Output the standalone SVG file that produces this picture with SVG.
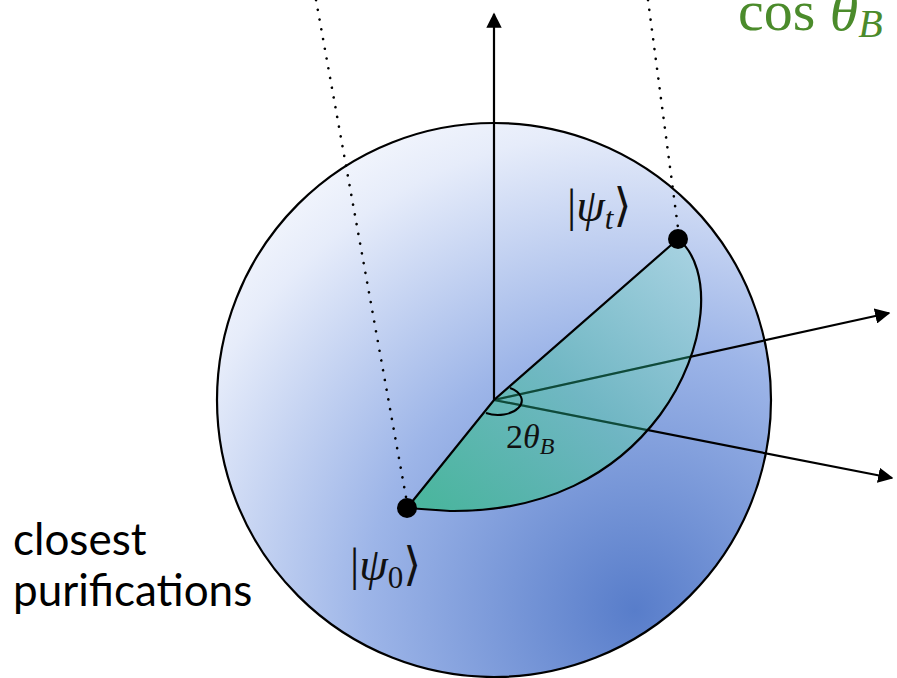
<svg xmlns="http://www.w3.org/2000/svg" width="897" height="678" viewBox="0 0 897 678">
<style>
.axis{stroke:#000;stroke-width:2.2;fill:none}
.dot{stroke:#000;stroke-width:2.6;stroke-dasharray:0.1 9.8;stroke-linecap:round;fill:none}
.math{font-family:"Liberation Serif","DejaVu Serif",serif;fill:#111}
.it{font-style:italic}
.lbl{font-family:Lato,"Open Sans",sans-serif;font-size:44px;fill:#000}
</style>
<defs>
<radialGradient id="sg" gradientUnits="userSpaceOnUse" cx="635" cy="610" r="600" fx="635" fy="610">
<stop offset="0" stop-color="#587dca"/>
<stop offset="0.45" stop-color="#9db5e8"/>
<stop offset="0.8" stop-color="#e6ecfa"/>
<stop offset="1" stop-color="#ffffff"/>
</radialGradient>
<linearGradient id="gg" gradientUnits="userSpaceOnUse" x1="430" y1="500" x2="690" y2="250">
<stop offset="0" stop-color="#3fb793"/>
<stop offset="0.5" stop-color="#6bb9be"/>
<stop offset="1" stop-color="#a2d2de"/>
</linearGradient>
<clipPath id="rc">
<path d="M494,400 L678,239 C714,268 708,350 660,415 C615,475 545,512 450,511 L407,508 Z"/>
</clipPath>
<marker id="ah" viewBox="0 0 10 10" refX="9" refY="5" markerWidth="7" markerHeight="7" markerUnits="strokeWidth" orient="auto">
<path d="M0,0 L10,5 L0,10 Z" fill="#000"/>
</marker>
</defs>
<g id="sphere">
<circle cx="494" cy="400" r="277" fill="url(#sg)" stroke="#000" stroke-width="2.2"/>
</g>
<g id="connectors">
<line class="dot" x1="316" y1="0" x2="406" y2="497"/>
<line class="dot" x1="648" y1="0" x2="678" y2="228"/>
<line class="axis" x1="494" y1="400" x2="494" y2="14" marker-end="url(#ah)"/>
<line class="axis" x1="494" y1="400" x2="889" y2="313" marker-end="url(#ah)"/>
<line class="axis" x1="494" y1="400" x2="892" y2="478" marker-end="url(#ah)"/>
</g>
<g id="region">
<path d="M494,400 L678,239 C714,268 708,350 660,415 C615,475 545,512 450,511 L407,508 Z" fill="url(#gg)" fill-opacity="0.85" stroke="none"/>
<g clip-path="url(#rc)" stroke="#0f4a3a" stroke-width="2.2">
<line x1="494" y1="400" x2="889" y2="313"/>
<line x1="494" y1="400" x2="892" y2="478"/>
</g>
<path d="M407,508 L494,400 L678,239 M678,239 C714,268 708,350 660,415 C615,475 545,512 450,511 L407,508" fill="none" stroke="#000" stroke-width="2.2"/>
<path d="M510,388 A23,14 0 0 1 486,413" fill="none" stroke="#000" stroke-width="2"/>
<text class="math" x="506" y="448" font-size="34">2<tspan class="it">θ</tspan><tspan class="it" font-size="24" dy="6">B</tspan></text>
</g>
<g id="psi_t">
<circle cx="678" cy="239" r="10" fill="#000"/>
<text class="math" x="567" y="221" font-size="46">|<tspan class="it">ψ</tspan><tspan class="it" font-size="31" dy="8">t</tspan><tspan dy="-8">⟩</tspan></text>
</g>
<g id="psi_0">
<circle cx="407" cy="508" r="10" fill="#000"/>
<text class="math" x="350" y="580" font-size="46">|<tspan class="it">ψ</tspan><tspan font-size="31" dy="8">0</tspan><tspan dy="-8">⟩</tspan></text>
</g>
<g id="cos-label">
<text class="math" x="738" y="30" font-size="58" style="fill:#4b8b2b">cos <tspan class="it">θ</tspan><tspan class="it" font-size="40" dy="7">B</tspan></text>
</g>
<g id="caption">
<text class="lbl" x="13" y="555">closest</text>
<text class="lbl" x="13" y="606">purifications</text>
</g>
</svg>
